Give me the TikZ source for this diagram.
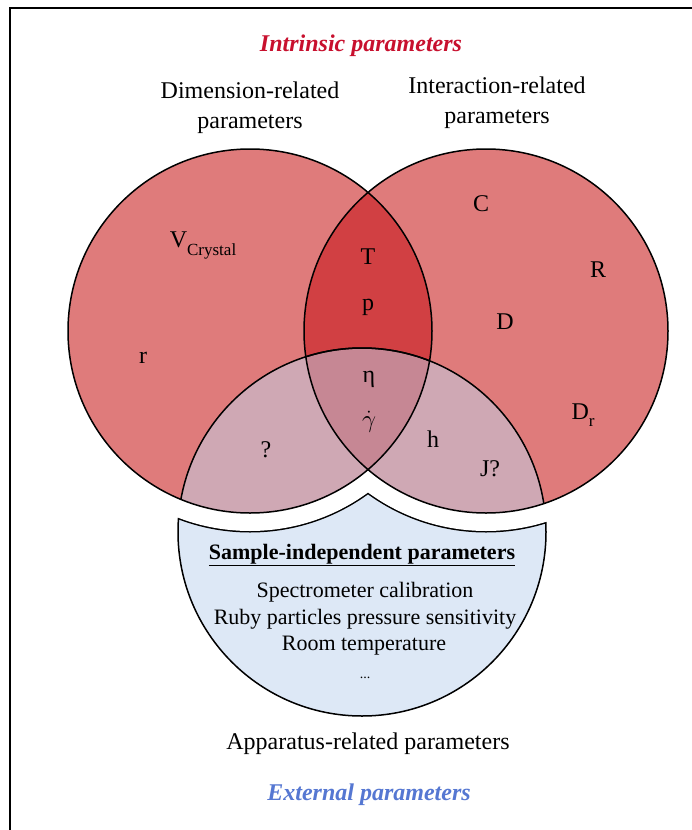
\documentclass[tikz,border=0pt]{standalone}
\usepackage{fontspec}
\setmainfont{Liberation Serif}
\definecolor{redfill}{HTML}{DF7B7B}
\definecolor{lensfill}{HTML}{D14043}
\definecolor{pinkfill}{HTML}{CFA8B4}
\definecolor{midfill}{HTML}{C68794}
\definecolor{bluefill}{HTML}{DDE8F6}
\definecolor{intrred}{HTML}{C8102E}
\definecolor{extblue}{HTML}{5577D2}
\tikzset{
  outline/.style={draw=black, line width=1.5pt},
  hd/.style={font=\fontsize{24}{29}\selectfont, inner sep=0pt, anchor=base},
  ttl/.style={font=\fontsize{24}{29}\selectfont\bfseries\itshape, inner sep=0pt, anchor=base},
  sym/.style={font=\fontsize{24}{29}\selectfont, inner sep=0pt, anchor=base},
  body/.style={font=\fontsize{22}{26}\selectfont, inner sep=0pt, anchor=base},
}
\begin{document}
\begin{tikzpicture}[x=1pt,y=-1pt]
\useasboundingbox (0,0) rectangle (692,830);
\fill[white] (0,0) rectangle (692,830);
% frame (cropped)
\draw[line width=2pt] (10,830) -- (10,8) -- (692,8);

% blue shape: lower circle minus enlarged upper circles
\fill[bluefill] (362,532) circle[radius=184pt];
\draw[outline] (362,532) circle[radius=184pt];
\begin{scope}
  \clip (362,532) circle[radius=184pt];
  \draw[line width=3pt] (250,331) circle[radius=200pt] (486,331) circle[radius=200pt];
\end{scope}
\fill[white] (250,331) circle[radius=200pt] (486,331) circle[radius=200pt];

% Venn circles
\fill[redfill] (250,331) circle[radius=182pt] (486,331) circle[radius=182pt];
\begin{scope}
  \clip (250,331) circle[radius=182pt];
  \fill[lensfill] (486,331) circle[radius=182pt];
  \fill[pinkfill] (362,532) circle[radius=184pt];
\end{scope}
\begin{scope}
  \clip (486,331) circle[radius=182pt];
  \fill[pinkfill] (362,532) circle[radius=184pt];
\end{scope}
\begin{scope}
  \clip (250,331) circle[radius=182pt];
  \clip (486,331) circle[radius=182pt];
  \fill[midfill] (362,532) circle[radius=184pt];
\end{scope}
\begin{scope}
  \clip (250,331) circle[radius=182pt];
  \draw[outline] (362,532) circle[radius=184pt];
\end{scope}
\begin{scope}
  \clip (486,331) circle[radius=182pt];
  \draw[outline] (362,532) circle[radius=184pt];
\end{scope}
\draw[outline] (250,331) circle[radius=182pt] (486,331) circle[radius=182pt];

% titles
\node[ttl, text=intrred] (intr) at (361,51) {Intrinsic parameters};
\node[hd] (dim1) at (250,98) {Dimension-related};
\node[hd] (dim2) at (250,128) {parameters};
\node[hd] (int1) at (497,93) {Interaction-related};
\node[hd] (int2) at (497,123) {parameters};

% symbols
\node[sym] (vc) at (203,247) {V\raisebox{-8pt}{\fontsize{17}{17}\selectfont Crystal}};
\node[sym] (r) at (143,363) {r};
\node[sym] (C) at (481,211) {C};
\node[sym] (R) at (598,277) {R};
\node[sym] (D) at (505,329) {D};
\node[sym] (Dr) at (583,419) {D\raisebox{-7pt}{\fontsize{17}{17}\selectfont r}};
\node[sym] (T) at (368,264) {T};
\node[sym] (p) at (368,310) {p};
\node[sym] (eta) at (369,382) {η};
\node[sym] (gd) at (369,427) {$\dot{\gamma}$};
\node[sym] (q) at (266,457) {?};
\node[sym] (h) at (433,447) {h};
\node[sym] (J) at (490,476) {J?};

% blue shape text
\node[body, font=\fontsize{22}{26}\selectfont\bfseries] (sip) at (362,559) {\underline{Sample-independent parameters}};
\node[body] (b1) at (365,597) {Spectrometer calibration};
\node[body] (b2) at (365,624) {Ruby particles pressure sensitivity};
\node[body] (b3) at (364,650) {Room temperature};
\node[body] (b4) at (365,678) {\fontsize{14}{14}\selectfont ...};

% bottom labels
\node[hd] (app) at (368,749) {Apparatus-related parameters};
\node[ttl, text=extblue] (ext) at (369,800) {External parameters};
\end{tikzpicture}
\end{document}
